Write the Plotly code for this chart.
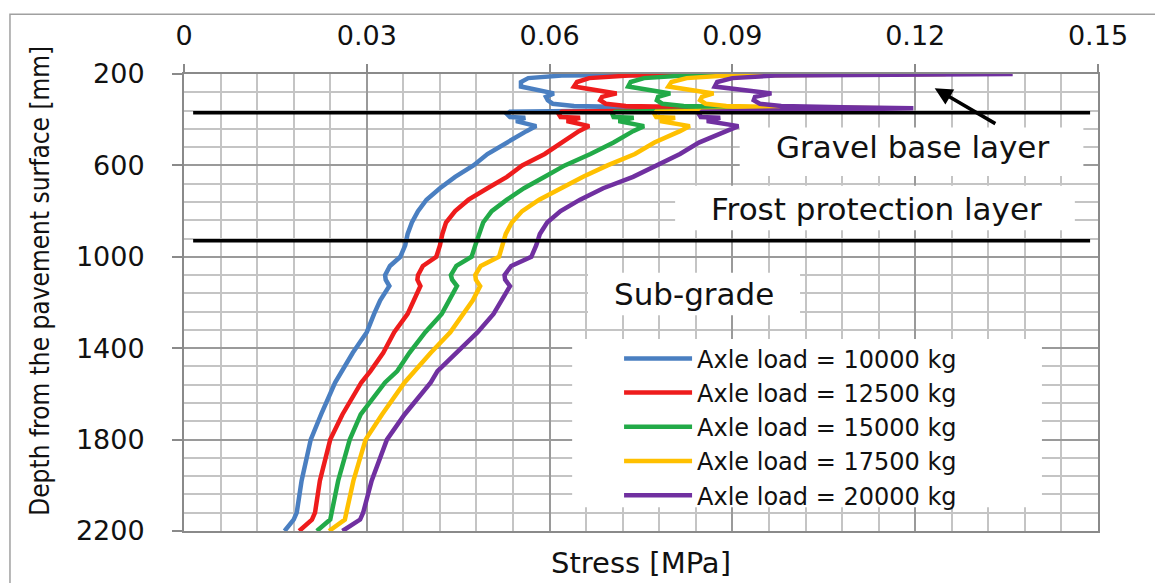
import plotly.graph_objects as go

# ---------------- data ----------------
depth_mm = [200, 207, 218, 235, 255, 270, 285, 300, 315, 330, 340, 346, 350, 365, 375,
            388, 392, 406, 428, 450, 500, 550, 600, 650, 700, 750, 800, 850, 900, 950,
            1000, 1040, 1080, 1100, 1128, 1190, 1250, 1330, 1420, 1500, 1550, 1690,
            1800, 1980, 2120, 2150, 2200]

stress_10000 = [0.100, 0.062, 0.0565, 0.0553, 0.0553, 0.0585, 0.0607, 0.0594, 0.0597, 0.0605,
                0.064, 0.075, 0.100, 0.0535, 0.0530, 0.0535, 0.0560, 0.0545, 0.0578, 0.0562,
                0.0530, 0.0498, 0.0475, 0.0445, 0.0420, 0.0398, 0.0384, 0.0374, 0.0367, 0.0363,
                0.0355, 0.0338, 0.0330, 0.0331, 0.0337, 0.0322, 0.0312, 0.0300, 0.0277, 0.0260,
                0.0248, 0.0225, 0.0208, 0.0193, 0.0185, 0.0180, 0.0165]

stress_12500 = [0.112, 0.073, 0.0665, 0.0645, 0.0640, 0.0672, 0.0710, 0.0686, 0.0683, 0.0692,
                0.0725, 0.085, 0.105, 0.0620, 0.0615, 0.0618, 0.0650, 0.0628, 0.0665, 0.0648,
                0.0620, 0.0592, 0.0555, 0.0530, 0.0498, 0.0467, 0.0445, 0.0430, 0.0424, 0.0420,
                0.0414, 0.0392, 0.0384, 0.0383, 0.0388, 0.0377, 0.0367, 0.0345, 0.0327, 0.0306,
                0.0291, 0.0260, 0.0240, 0.0223, 0.0215, 0.0210, 0.0189]

stress_15000 = [0.118, 0.082, 0.0755, 0.0733, 0.0729, 0.0762, 0.0798, 0.0778, 0.0776, 0.0785,
                0.082, 0.093, 0.110, 0.0708, 0.0703, 0.0705, 0.0738, 0.0713, 0.0755, 0.0737,
                0.0705, 0.0667, 0.0625, 0.0592, 0.0558, 0.0530, 0.0505, 0.0491, 0.0484, 0.0478,
                0.0472, 0.0447, 0.0438, 0.0440, 0.0448, 0.0435, 0.0423, 0.0396, 0.0370, 0.0350,
                0.0330, 0.0290, 0.0272, 0.0253, 0.0242, 0.0240, 0.0218]

stress_17500 = [0.125, 0.089, 0.0825, 0.0800, 0.0795, 0.0830, 0.0869, 0.0850, 0.0847, 0.0856,
                0.089, 0.100, 0.115, 0.0775, 0.0772, 0.0775, 0.0806, 0.0781, 0.0830, 0.0814,
                0.0772, 0.0740, 0.0695, 0.0655, 0.0620, 0.0583, 0.0555, 0.0538, 0.0528, 0.0522,
                0.0517, 0.0487, 0.0478, 0.0479, 0.0486, 0.0474, 0.0458, 0.0437, 0.0405, 0.0378,
                0.0362, 0.0325, 0.0298, 0.0278, 0.0267, 0.0264, 0.0238]

stress_20000 = [0.136, 0.097, 0.090, 0.0875, 0.0871, 0.0915, 0.0964, 0.0937, 0.0935, 0.0945,
                0.098, 0.108, 0.1197, 0.0850, 0.0845, 0.0848, 0.0880, 0.0858, 0.0910, 0.0890,
                0.0845, 0.0814, 0.0775, 0.0737, 0.0688, 0.0650, 0.0618, 0.0596, 0.0584, 0.0578,
                0.0570, 0.0537, 0.0526, 0.0527, 0.0535, 0.0522, 0.0508, 0.0482, 0.0447, 0.0416,
                0.0405, 0.0362, 0.0333, 0.0308, 0.0294, 0.0289, 0.0260]

series_names = ["Axle load = 10000 kg", "Axle load = 12500 kg", "Axle load = 15000 kg",
                "Axle load = 17500 kg", "Axle load = 20000 kg"]
series_colors = ["#4a7fc1", "#ee1c1c", "#22aa48", "#ffc000", "#7030a0"]

layer_boundaries_mm = [370, 930]
x_tick_vals = [0, 0.03, 0.06, 0.09, 0.12, 0.15]
x_tick_text = ["0", "0.03", "0.06", "0.09", "0.12", "0.15"]
y_tick_vals = [200, 600, 1000, 1400, 1800, 2200]

# ---------------- figure ----------------
fig = go.Figure()
all_series = [stress_10000, stress_12500, stress_15000, stress_17500, stress_20000]
for name, col, s in zip(series_names, series_colors, all_series):
    fig.add_trace(go.Scatter(x=s, y=depth_mm, mode="lines", name=name,
                             line=dict(color=col, width=4.5)))

TXT = "DejaVu Sans"
grid_major = "#9a9a9a"
grid_minor = "#c4c4c4"

# the page body adds an 8 px margin, so the figure is 8 px smaller and shifted
fig.update_layout(
    width=1155, height=575,
    margin=dict(l=176, r=65, t=61, b=52),
    paper_bgcolor="white", plot_bgcolor="white",
    showlegend=True,
    legend=dict(x=0.476, y=0.426, xanchor="left", yanchor="top",
                bgcolor="rgba(0,0,0,0)", borderwidth=0,
                font=dict(family=TXT, size=24, color="#111"),
                itemwidth=68, tracegroupgap=0),
    xaxis=dict(side="top", range=[0, 0.15], tickvals=x_tick_vals, ticktext=x_tick_text,
               showgrid=True, gridcolor=grid_major, gridwidth=2,
               minor=dict(dtick=0.006, tick0=0, showgrid=True, gridcolor=grid_minor,
                          gridwidth=2, ticks=""),
               ticks="outside", ticklen=8, tickwidth=2, tickcolor="#8a8a8a",
               showline=True, linecolor="#8a8a8a", linewidth=2, mirror=True,
               zeroline=False, ticklabelstandoff=8,
               tickfont=dict(family=TXT, size=27, color="#111")),
    yaxis=dict(range=[2200, 200], tickvals=y_tick_vals,
               showgrid=True, gridcolor=grid_major, gridwidth=2,
               minor=dict(dtick=80, tick0=200, showgrid=True, gridcolor=grid_minor,
                          gridwidth=2, ticks=""),
               ticks="outside", ticklen=10, tickwidth=2, tickcolor="#8a8a8a",
               showline=True, linecolor="#8a8a8a", linewidth=2, mirror=True,
               zeroline=False, ticklabelstandoff=22,
               tickfont=dict(family=TXT, size=27, color="#111")),
)

# white label boxes (layout positions)
boxes = [
    (0.0912, 0.1476, 434, 646),    # gravel base layer
    (0.0806, 0.1462, 689, 884),    # frost protection layer
    (0.0663, 0.1011, 1070, 1256),  # sub-grade
    (0.0637, 0.1408, 1360, 2096),  # legend box
]
for x0, x1, y0, y1 in boxes:
    fig.add_shape(type="rect", xref="x", yref="y", x0=x0, x1=x1, y0=y0, y1=y1,
                  fillcolor="white", line=dict(width=0), layer="above")

for d in layer_boundaries_mm:
    fig.add_shape(type="line", xref="x", yref="y", x0=0.0015, x1=0.1487, y0=d, y1=d,
                  line=dict(color="black", width=3.5), layer="above")

# outer frame
fig.add_shape(type="rect", xref="paper", yref="paper", x0=-0.1904, x1=1.0678,
              y0=-0.14, y1=1.1305, line=dict(color="#a0a0a0", width=1.5),
              fillcolor="rgba(0,0,0,0)", layer="above")

ann_font = dict(family=TXT, size=31, color="#111")
fig.add_annotation(x=0.1196, y=520, xref="x", yref="y", text="Gravel base layer",
                   showarrow=False, font=ann_font)
fig.add_annotation(x=0.1136, y=789, xref="x", yref="y", text="Frost protection layer",
                   showarrow=False, font=ann_font)
fig.add_annotation(x=0.0837, y=1161, xref="x", yref="y", text="Sub-grade",
                   showarrow=False, font=ann_font)
fig.add_annotation(x=0.1232, y=262, ax=0.1334, ay=421, xref="x", yref="y",
                   axref="x", ayref="y", text="", showarrow=True,
                   arrowhead=2, arrowsize=1, arrowwidth=3.5, arrowcolor="black")
fig.add_annotation(x=0.5, y=-0.069, xref="paper", yref="paper", text="Stress [MPa]",
                   showarrow=False, yanchor="middle",
                   font=dict(family=TXT, size=29, color="#111"))
fig.add_annotation(x=-0.1575, y=0.5476, xref="paper", yref="paper",
                   text="Depth from the pavement surface [mm]", textangle=-90,
                   showarrow=False, xanchor="center", yanchor="middle",
                   font=dict(family="DejaVu Sans Condensed, Liberation Sans Narrow, Liberation Sans",
                             size=26, color="#111"))

fig.write_html("out.html")
